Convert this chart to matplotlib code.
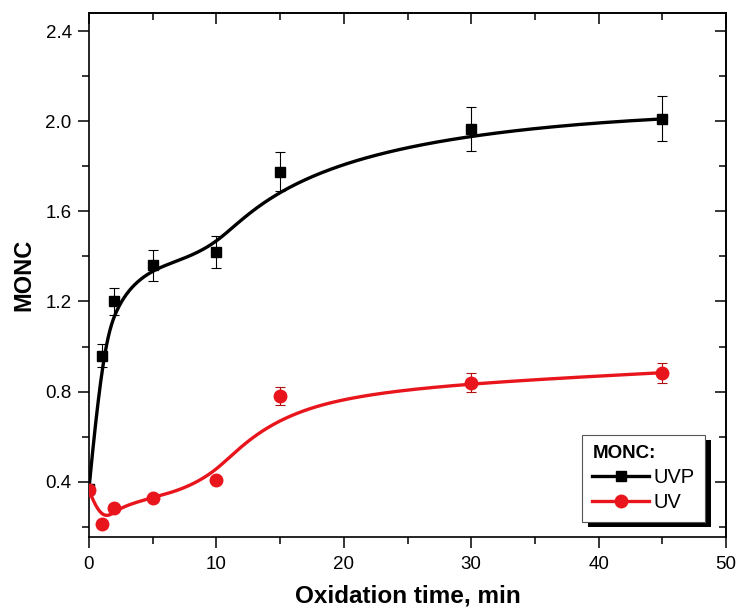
import numpy as np
import matplotlib
matplotlib.use("Agg")
import matplotlib.pyplot as plt
from matplotlib.ticker import MultipleLocator, FormatStrFormatter
import matplotlib.patheffects as pe

plt.rcParams['font.family'] = ['Liberation Sans', 'DejaVu Sans']

# ---- data ----
time = [0, 1, 2, 5, 10, 15, 30, 45]
uvp = [0.37, 0.96, 1.20, 1.36, 1.42, 1.775, 1.965, 2.01]
uvp_err = [0.0, 0.05, 0.06, 0.067, 0.07, 0.087, 0.096, 0.10]
uv = [0.364, 0.213, 0.284, 0.329, 0.409, 0.782, 0.84, 0.884]
uv_err = [0.0, 0.0, 0.0, 0.0, 0.0, 0.04, 0.042, 0.044]
x_ticks = [0, 10, 20, 30, 40, 50]
y_ticks = [0.4, 0.8, 1.2, 1.6, 2.0, 2.4]

BLACK = '#000000'
RED = '#e8161c'


def bspline(px, py, k=3, num=600):
    P = np.column_stack([px, py]).astype(float)
    n = len(P)
    knots = np.concatenate([np.zeros(k + 1), np.arange(1, n - k),
                            np.full(k + 1, n - k)]).astype(float)
    t = np.linspace(0, n - k, num)
    t[-1] -= 1e-9
    N = np.zeros((num, len(knots) - 1))
    for i in range(len(knots) - 1):
        N[:, i] = (knots[i] <= t) & (t < knots[i + 1])
    for d in range(1, k + 1):
        M = np.zeros((num, len(knots) - 1 - d))
        for i in range(len(knots) - 1 - d):
            den1 = knots[i + d] - knots[i]
            den2 = knots[i + d + 1] - knots[i + 1]
            left = (t - knots[i]) / den1 if den1 > 0 else 0.0
            right = (knots[i + d + 1] - t) / den2 if den2 > 0 else 0.0
            M[:, i] = left * N[:, i] + right * N[:, i + 1]
        N = M
    C = N @ P
    return C[:, 0], C[:, 1]


fig = plt.figure(figsize=(7.38, 6.08), dpi=100)
ax = fig.add_axes([89 / 738, 71 / 608, 637 / 738, 524 / 608])

# UVP
bx, by = bspline(time, uvp)
ax.plot(bx, by, color=BLACK, lw=2.4, zorder=3)
ax.errorbar(time, uvp, yerr=uvp_err, fmt='none', ecolor=BLACK, elinewidth=0.8,
            capsize=3.5, capthick=0.8, zorder=4)
ax.plot(time, uvp, ls='none', marker='s', ms=7.5, color=BLACK, zorder=5)
# UV
rx, ry = bspline(time, uv)
ax.plot(rx, ry, color=RED, lw=2.4, zorder=3)
ax.errorbar(time, uv, yerr=uv_err, fmt='none', ecolor='#b01010', elinewidth=0.8,
            capsize=3.5, capthick=0.8, zorder=4)
ax.plot(time, uv, ls='none', marker='o', ms=9, color=RED, zorder=5)

# legend handles
h1, = ax.plot([], [], color=BLACK, lw=2.4, marker='s', ms=7.5, label='UVP')
h2, = ax.plot([], [], color=RED, lw=2.4, marker='o', ms=9, label='UV')

ax.set_xlim(0, 50)
ax.set_ylim(0.155, 2.48)
ax.set_xticks(x_ticks)
ax.set_yticks(y_ticks)
ax.xaxis.set_minor_locator(MultipleLocator(5))
ax.yaxis.set_minor_locator(MultipleLocator(0.2))
ax.yaxis.set_major_formatter(FormatStrFormatter('%.1f'))
ax.tick_params(which='major', direction='out', length=8, width=1.1, labelsize=13.5, pad=4.5)
ax.tick_params(axis='x', which='major', pad=6)
ax.tick_params(which='minor', direction='out', length=5, width=1.1)
for s in ax.spines.values():
    s.set_linewidth(1.2)

secx = ax.secondary_xaxis('top')
secx.set_xticks(x_ticks)
secx.xaxis.set_minor_locator(MultipleLocator(5))
secx.tick_params(which='major', direction='in', length=8, width=1.1, labeltop=False)
secx.tick_params(which='minor', direction='in', length=5, width=1.1)
secx.spines['top'].set_linewidth(1.2)
secy = ax.secondary_yaxis('right')
secy.set_yticks(y_ticks)
secy.yaxis.set_minor_locator(MultipleLocator(0.2))
secy.tick_params(which='major', direction='in', length=8, width=1.1, labelright=False)
secy.tick_params(which='minor', direction='in', length=5, width=1.1)
secy.spines['right'].set_linewidth(1.2)

ax.set_xlabel('Oxidation time, min', fontsize=17.5, fontweight='bold', labelpad=8)
ax.set_ylabel('MONC', fontsize=17, fontweight='bold', labelpad=7)

leg = ax.legend(handles=[h1, h2], title='MONC:', loc='lower right',
                bbox_to_anchor=(0.967, 0.029), borderaxespad=0, fontsize=14.5,
                title_fontproperties={'weight': 'bold', 'size': 13.5},
                fancybox=False, framealpha=1, edgecolor='#555555',
                handlelength=2.8, numpoints=1, borderpad=0.5,
                labelspacing=0.3, handletextpad=0.25)
leg._legend_box.align = 'left'
leg.get_frame().set_linewidth(0.8)
leg.get_frame().set_path_effects([
    pe.SimplePatchShadow(offset=(4, -4), shadow_rgbFace='black', alpha=1.0),
    pe.Normal()])
leg.set_zorder(10)

fig.savefig('out.png', dpi=100)
